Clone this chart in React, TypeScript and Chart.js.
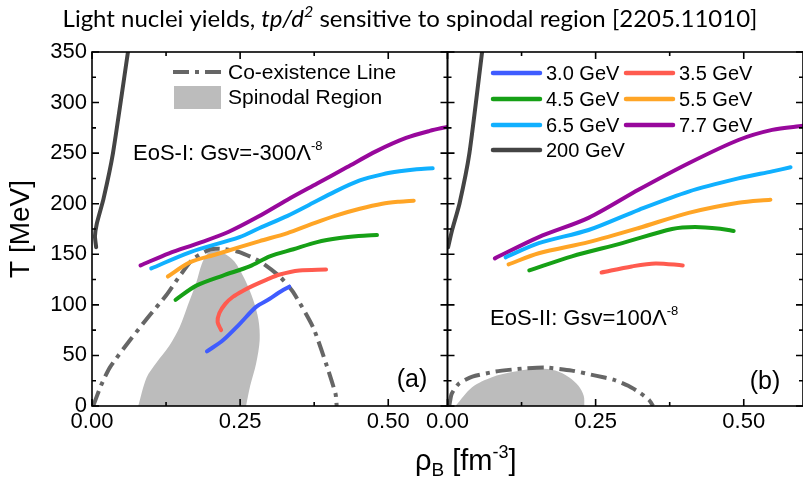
import React, { useEffect, useRef } from "react";
import { Chart, registerables } from "chart.js";

Chart.register(...registerables);

// ---------------- axes ----------------
const xTickValues = [0, 0.25, 0.5];
const xMinorStep = 0.125;
const xMajorStep = 0.25;
const xMax = 0.6;
const yMax = 350;
const yTickStep = 50;
const yMinorStep = 25;

// ---------------- series meta ----------------
const energyLabels = ["3.0 GeV", "3.5 GeV", "4.5 GeV", "5.5 GeV", "6.5 GeV", "7.7 GeV", "200 GeV"];
const energyColors = ["#3f5cff", "#ff5b4f", "#16a016", "#ffa526", "#10b0ff", "#98089c", "#444444"];
const coexColor = "#666666";
const spinodalColor = "#bcbcbc";

// ---------------- panel (a): EoS-I ----------------
const a30Rho = [0.194, 0.221, 0.249, 0.277, 0.3, 0.315, 0.333];
const a30T = [54, 65, 81, 98, 106, 112, 118];
const a35Rho = [0.218, 0.212, 0.215, 0.225, 0.238, 0.255, 0.272, 0.295, 0.317, 0.35, 0.395];
const a35T = [75, 83, 92, 101, 108, 114, 119, 125, 130, 134, 135];
const a45Rho = [0.141, 0.176, 0.221, 0.266, 0.3, 0.34, 0.38, 0.418, 0.45, 0.481];
const a45T = [105, 119, 129, 138, 148, 155, 162, 166, 168, 169];
const a55Rho = [0.128, 0.165, 0.21, 0.249, 0.283, 0.33, 0.367, 0.41, 0.452, 0.49, 0.519, 0.543];
const a55T = [128, 142, 150, 157, 163, 171, 179, 188, 195, 200, 202, 203];
const a65Rho = [0.1, 0.165, 0.249, 0.283, 0.33, 0.367, 0.41, 0.452, 0.49, 0.519, 0.548, 0.575];
const a65T = [136, 152, 167, 176, 188, 199, 212, 223, 229, 232, 234, 235];
const a77Rho = [0.082, 0.13, 0.18, 0.23, 0.28, 0.33, 0.38, 0.43, 0.48, 0.53, 0.57, 0.6];
const a77T = [139, 151, 161, 172, 187, 204, 220, 236, 252, 265, 272, 276];
const a200Rho = [0.007, 0.005, 0.008, 0.0195, 0.0354, 0.0607];
const a200T = [157, 168, 180, 205, 250, 350];
const aCoexRho = [0.002, 0.015, 0.03, 0.064, 0.095, 0.126, 0.145, 0.17, 0.2, 0.225, 0.25, 0.283, 0.317, 0.339, 0.373, 0.395, 0.411, 0.413];
const aCoexT = [0, 20, 38, 65, 88, 110, 126, 145, 155, 155, 152, 143, 128, 113, 78, 42, 12, 0];
const aSpinRho = [0.078, 0.092, 0.109, 0.131, 0.148, 0.162, 0.176, 0.185, 0.195, 0.205, 0.222, 0.24, 0.258, 0.272, 0.281, 0.283, 0.277, 0.267, 0.26];
const aSpinT = [0, 28, 43, 60, 78, 100, 122, 140, 151, 154, 151, 143, 125, 105, 85, 65, 42, 20, 0];

// ---------------- panel (b): EoS-II ----------------
const b35Rho = [0.26, 0.311, 0.351, 0.397];
const b35T = [132, 138, 141, 139];
const b45Rho = [0.138, 0.21, 0.295, 0.379, 0.418, 0.463, 0.483];
const b45T = [134, 148, 161, 175, 177, 175, 173];
const b55Rho = [0.103, 0.154, 0.238, 0.323, 0.407, 0.491, 0.545];
const b55T = [140, 151, 162, 176, 191, 201, 204];
const b65Rho = [0.098, 0.154, 0.238, 0.323, 0.407, 0.491, 0.548, 0.579];
const b65T = [147, 161, 174, 194, 212, 225, 232, 236];
const b77Rho = [0.08, 0.154, 0.238, 0.323, 0.407, 0.491, 0.548, 0.6];
const b77T = [146, 167, 186, 214, 240, 263, 273, 277];
const b200Rho = [0.001, 0.0078, 0.0202, 0.037, 0.0584];
const b200T = [157, 174, 200, 250, 350];
const bCoexRho = [0.003, 0.007, 0.019, 0.042, 0.081, 0.126, 0.165, 0.21, 0.25, 0.28, 0.305, 0.325, 0.34, 0.347];
const bCoexT = [0, 12, 22, 29, 34, 37, 38, 35, 30, 26, 20, 13, 6, 0];
const bSpinRho = [0.0135, 0.0415, 0.075, 0.109, 0.154, 0.182, 0.205, 0.221, 0.23, 0.231];
const bSpinT = [0, 18.6, 28.5, 33.5, 37, 35, 28.5, 20, 10, 0];

// ---------------- texts ----------------
const titleParts = [
  { text: "Light nuclei yields, ", italic: false, sup: false },
  { text: "tp/d", italic: true, sup: false },
  { text: "2", italic: true, sup: true },
  { text: " sensitive to spinodal region [2205.11010]", italic: false, sup: false },
];
const yTitle = "T [MeV]";
const eosA = ["EoS-I: Gsv=-300Λ", "-8"];
const eosB = ["EoS-II: Gsv=100Λ", "-8"];
const coexLabel = "Co-existence Line";
const spinLabel = "Spinodal Region";

const FONT = "'Liberation Sans', Arial, sans-serif";
const TITLE_FONT = "Lato, 'Liberation Sans', sans-serif";

const pts = (xs: number[], ys: number[]) => xs.map((x, i) => ({ x, y: ys[i] }));

function curve(label: string, xs: number[], ys: number[], color: string, axis: string, extra: any = {}) {
  return {
    label,
    data: pts(xs, ys),
    xAxisID: axis,
    yAxisID: "y",
    borderColor: color,
    backgroundColor: color,
    borderWidth: 4,
    pointRadius: 0,
    tension: 0.3,
    fill: false,
    borderCapStyle: "round",
    borderJoinStyle: "round",
    ...extra,
  };
}

function drawParts(ctx: CanvasRenderingContext2D, parts: { text: string; font: string; dy: number }[], x: number, y: number, align: "left" | "center") {
  let total = 0;
  const widths = parts.map((p) => {
    ctx.font = p.font;
    const w = ctx.measureText(p.text).width;
    total += w;
    return w;
  });
  let cx = align === "center" ? x - total / 2 : x;
  ctx.textAlign = "left";
  ctx.textBaseline = "alphabetic";
  parts.forEach((p, i) => {
    ctx.font = p.font;
    ctx.fillText(p.text, cx, y + p.dy);
    cx += widths[i];
  });
  return total;
}

function titleSpec(size: number) {
  return titleParts.map((p) => ({
    text: p.text,
    font: `${p.italic ? "italic " : ""}${p.sup ? Math.round(size * 0.65) : size}px ${TITLE_FONT}`,
    dy: p.sup ? -Math.round(size * 0.4) : 0,
  }));
}

const decorPlugin = {
  id: "decor",
  afterDatasetsDraw(chart: any) {
    const ctx: CanvasRenderingContext2D = chart.ctx;
    const ys = chart.scales.y;
    const { top, bottom } = chart.chartArea;
    ctx.save();
    ctx.strokeStyle = "#000";
    ctx.lineWidth = 1.6;
    for (const id of ["xa", "xb"]) {
      const xs = chart.scales[id];
      const l = xs.left;
      const r = xs.right;
      ctx.strokeRect(l, top, r - l, bottom - top);
      ctx.beginPath();
      for (let k = 0; k * xMinorStep <= xMax + 1e-9; k++) {
        const v = k * xMinorStep;
        const px = xs.getPixelForValue(v);
        const major = Math.abs(v / xMajorStep - Math.round(v / xMajorStep)) < 1e-6;
        const len = major ? 7 : 4;
        ctx.moveTo(px, bottom);
        ctx.lineTo(px, bottom - len);
        ctx.moveTo(px, top);
        ctx.lineTo(px, top + len);
      }
      for (let v = 0; v <= yMax; v += yMinorStep) {
        const py = ys.getPixelForValue(v);
        const len = v % yTickStep === 0 ? 7 : 4;
        ctx.moveTo(l, py);
        ctx.lineTo(l + len, py);
        ctx.moveTo(r, py);
        ctx.lineTo(r - len, py);
      }
      ctx.stroke();
    }
    ctx.restore();
  },
  afterDraw(chart: any) {
    const ctx: CanvasRenderingContext2D = chart.ctx;
    ctx.save();
    ctx.fillStyle = "#000";

    // title, sized to span the same width as the original
    let w20 = 0;
    for (const p of titleSpec(20)) {
      ctx.font = p.font;
      w20 += ctx.measureText(p.text).width;
    }
    const tSize = Math.min(26, Math.max(16, (20 * 695) / w20));
    drawParts(ctx, titleSpec(tSize), 410, 27, "center");

    // x axis title
    drawParts(
      ctx,
      [
        { text: "ρ", font: `29px ${FONT}`, dy: 0 },
        { text: "B", font: `19px ${FONT}`, dy: 6 },
        { text: " [fm", font: `29px ${FONT}`, dy: 0 },
        { text: "-3", font: `18px ${FONT}`, dy: -12 },
        { text: "]", font: `29px ${FONT}`, dy: 0 },
      ],
      415,
      470,
      "left"
    );

    // annotations
    drawParts(ctx, [
      { text: eosA[0], font: `22px ${FONT}`, dy: 0 },
      { text: eosA[1], font: `13px ${FONT}`, dy: -10 },
    ], 133, 160, "left");
    drawParts(ctx, [
      { text: eosB[0], font: `22px ${FONT}`, dy: 0 },
      { text: eosB[1], font: `13px ${FONT}`, dy: -10 },
    ], 490, 325, "left");
    ctx.font = `25px ${FONT}`;
    ctx.textAlign = "center";
    ctx.textBaseline = "middle";
    ctx.fillText("(a)", 412, 380);
    ctx.fillText("(b)", 765, 382);

    // legend in panel (a)
    ctx.lineWidth = 4;
    ctx.strokeStyle = coexColor;
    ctx.setLineDash([16, 6, 4, 6]);
    ctx.beginPath();
    ctx.moveTo(173, 72);
    ctx.lineTo(223, 72);
    ctx.stroke();
    ctx.setLineDash([]);
    ctx.fillStyle = spinodalColor;
    ctx.fillRect(174, 86, 47, 23);
    ctx.fillStyle = "#000";
    ctx.font = `21px ${FONT}`;
    ctx.textAlign = "left";
    ctx.textBaseline = "middle";
    ctx.fillText(coexLabel, 228, 73);
    ctx.fillText(spinLabel, 228, 98);

    // legend in panel (b)
    const rowsY = [73, 99, 125, 150];
    const colX = [493, 626];
    energyLabels.forEach((lab, i) => {
      const row = Math.floor(i / 2);
      const col = i % 2;
      const x0 = colX[col];
      const y0 = rowsY[row];
      ctx.strokeStyle = energyColors[i];
      ctx.lineWidth = 4.5;
      ctx.lineCap = "round";
      ctx.beginPath();
      ctx.moveTo(x0, y0);
      ctx.lineTo(x0 + 47, y0);
      ctx.stroke();
      ctx.fillStyle = "#000";
      ctx.font = `20px ${FONT}`;
      ctx.fillText(lab, x0 + 53, y0 + 1);
    });
    ctx.restore();
  },
};

export default function App() {
  const ref = useRef<HTMLCanvasElement | null>(null);
  useEffect(() => {
    if (!ref.current) return;
    const xAxis = () => ({
      type: "linear",
      position: "bottom",
      stack: "panels",
      stackWeight: 1,
      min: 0,
      max: xMax,
      grid: { display: false, drawTicks: false },
      border: { display: false },
      ticks: {
        color: "#000",
        font: { family: FONT, size: 22 },
        padding: 3,
        maxRotation: 0,
        autoSkip: false,
        callback: (v: any) => Number(v).toFixed(2),
      },
      afterBuildTicks: (s: any) => {
        s.ticks = xTickValues.map((value) => ({ value }));
      },
      afterFit: (s: any) => {
        s.height = 78;
      },
    });
    const dash = { borderDash: [16, 6, 4, 6], borderCapStyle: "butt", tension: 0.2 };
    const datasets: any[] = [
      curve(energyLabels[0], a30Rho, a30T, energyColors[0], "xa"),
      curve(energyLabels[1], a35Rho, a35T, energyColors[1], "xa"),
      curve(energyLabels[2], a45Rho, a45T, energyColors[2], "xa"),
      curve(energyLabels[3], a55Rho, a55T, energyColors[3], "xa"),
      curve(energyLabels[4], a65Rho, a65T, energyColors[4], "xa"),
      curve(energyLabels[5], a77Rho, a77T, energyColors[5], "xa"),
      curve(energyLabels[6], a200Rho, a200T, energyColors[6], "xa", { tension: 0.2 }),
      curve(energyLabels[1], b35Rho, b35T, energyColors[1], "xb"),
      curve(energyLabels[2], b45Rho, b45T, energyColors[2], "xb"),
      curve(energyLabels[3], b55Rho, b55T, energyColors[3], "xb"),
      curve(energyLabels[4], b65Rho, b65T, energyColors[4], "xb"),
      curve(energyLabels[5], b77Rho, b77T, energyColors[5], "xb"),
      curve(energyLabels[6], b200Rho, b200T, energyColors[6], "xb", { tension: 0.2 }),
      curve(coexLabel, aCoexRho, aCoexT, coexColor, "xa", dash),
      curve(coexLabel, bCoexRho, bCoexT, coexColor, "xb", dash),
      curve(spinLabel, aSpinRho, aSpinT, spinodalColor, "xa", { borderWidth: 0, fill: "shape", tension: 0.3 }),
      curve(spinLabel, bSpinRho, bSpinT, spinodalColor, "xb", { borderWidth: 0, fill: "shape", tension: 0.3 }),
    ];
    const chart = new Chart(ref.current, {
      type: "line",
      data: { datasets },
      options: {
        responsive: false,
        animation: false,
        devicePixelRatio: 1,
        layout: { padding: { top: 52, left: 0, right: 0, bottom: 0 } },
        plugins: {
          legend: { display: false },
          tooltip: { enabled: false },
          title: { display: false },
        },
        scales: {
          xa: xAxis(),
          xb: xAxis(),
          y: {
            type: "linear",
            position: "left",
            min: 0,
            max: yMax,
            grid: { display: false, drawTicks: false },
            border: { display: false },
            ticks: {
              stepSize: yTickStep,
              color: "#000",
              font: { family: FONT, size: 22 },
              padding: 5,
            },
            title: {
              display: true,
              text: yTitle,
              color: "#000",
              font: { family: FONT, size: 28 },
              padding: { top: 4, bottom: 4 },
            },
            afterFit: (s: any) => {
              s.width = 92;
            },
          },
        },
      } as any,
      plugins: [decorPlugin],
    } as any);
    return () => chart.destroy();
  }, []);
  return (
    <div style={{ position: "fixed", left: 0, top: 0, width: 803, height: 484, background: "#fff" }}>
      <canvas ref={ref} width={803} height={484} style={{ display: "block" }} />
    </div>
  );
}
